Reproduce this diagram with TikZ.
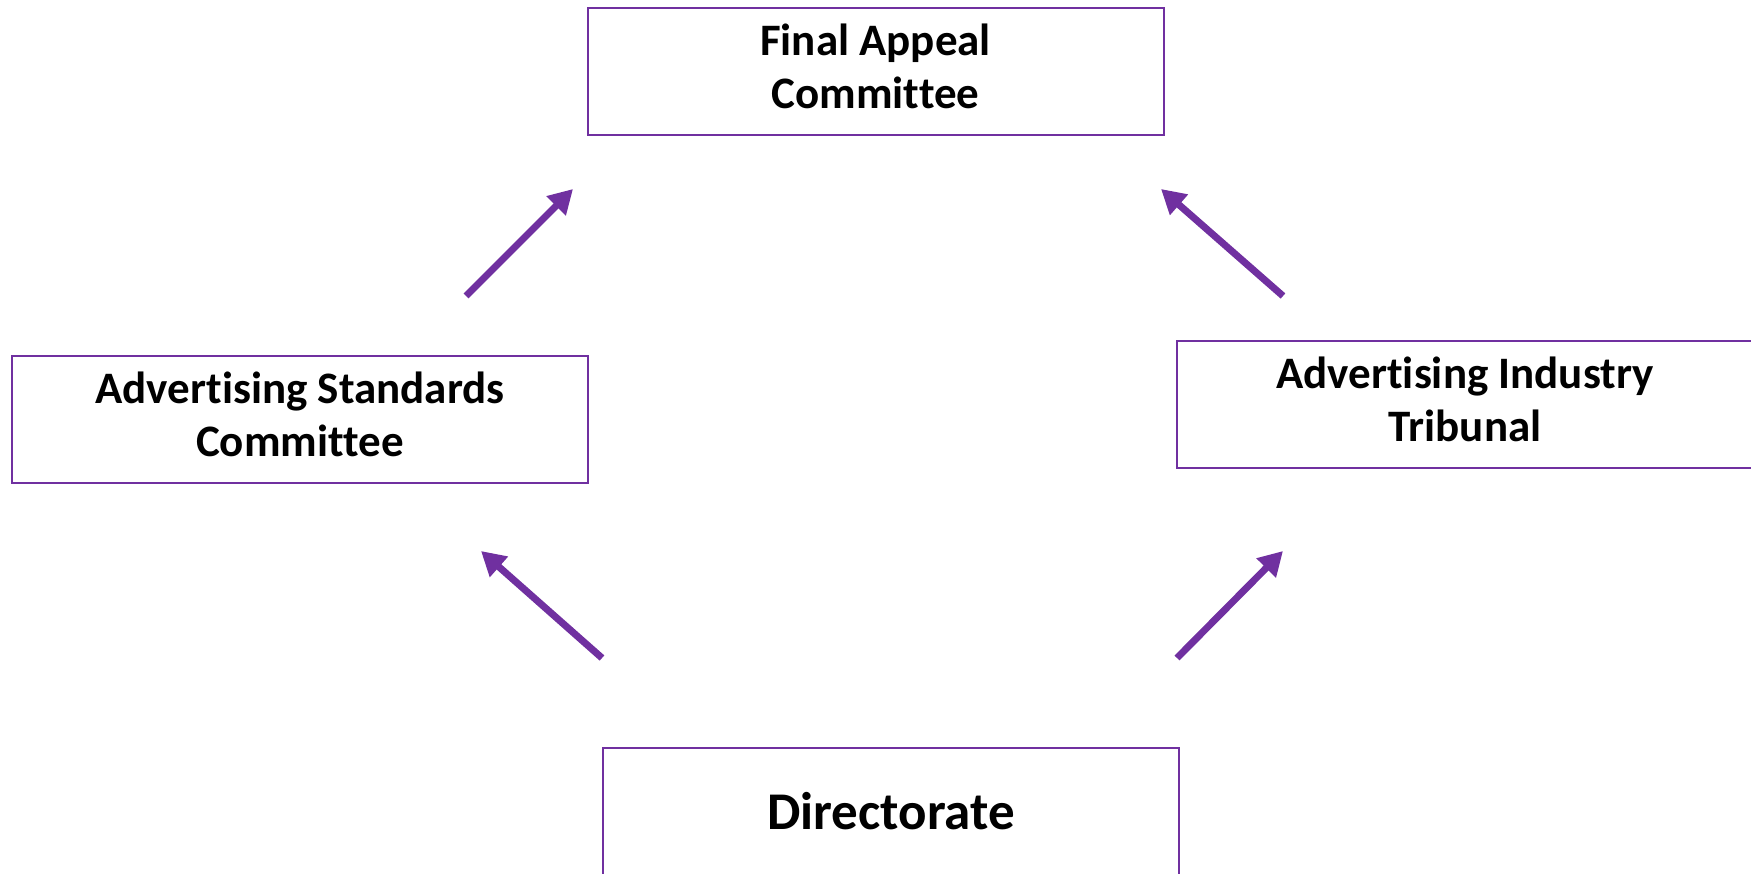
\documentclass[tikz,border=0pt]{standalone}
\usepackage{fontspec}
\setmainfont[Ligatures=NoCommon]{Carlito}
\usetikzlibrary{arrows.meta}
\definecolor{boxpurple}{HTML}{7030A0}
\newcommand{\boxtext}[2]{\raisebox{3pt}{\begin{tabular}{@{}c@{}}#1\\#2\end{tabular}}}
\tikzset{
  orgbox/.style={draw=boxpurple, line width=2pt, minimum width=576pt, minimum height=127pt, inner sep=0pt, align=center, font=\bfseries\fontsize{45}{53}\selectfont},
  bigbox/.style={orgbox, font=\bfseries\fontsize{53}{62}\selectfont},
  uparrow/.style={draw=boxpurple, line width=7pt, -{Triangle[length=24pt,width=26pt]}}
}
\begin{document}
\begin{tikzpicture}[x=1pt,y=-1pt]
\useasboundingbox (0,0) rectangle (1751,873);
\begin{scope}
\clip (0,0) rectangle (1751,873);
\node[orgbox] (fac) at (875.5,71.5) {\boxtext{Final Appeal}{Committee}};
\node[orgbox] (asc) at (300,419) {\boxtext{Advertising Standards}{Committee}};
\node[orgbox] (ait) at (1465,404) {\boxtext{Advertising Industry}{Tribunal}};
\node[bigbox] (dir) at (891,811.5) {Directorate};
\end{scope}
\coordinate (a1s) at (466,296);
\coordinate (a1e) at (573,189);
\coordinate (a2s) at (1283,296);
\coordinate (a2e) at (1161,189);
\coordinate (a3s) at (602,658);
\coordinate (a3e) at (481,551);
\coordinate (a4s) at (1177,658);
\coordinate (a4e) at (1283,551);
\draw[uparrow] (a1s) -- (a1e);
\draw[uparrow] (a2s) -- (a2e);
\draw[uparrow] (a3s) -- (a3e);
\draw[uparrow] (a4s) -- (a4e);
\end{tikzpicture}
\end{document}
